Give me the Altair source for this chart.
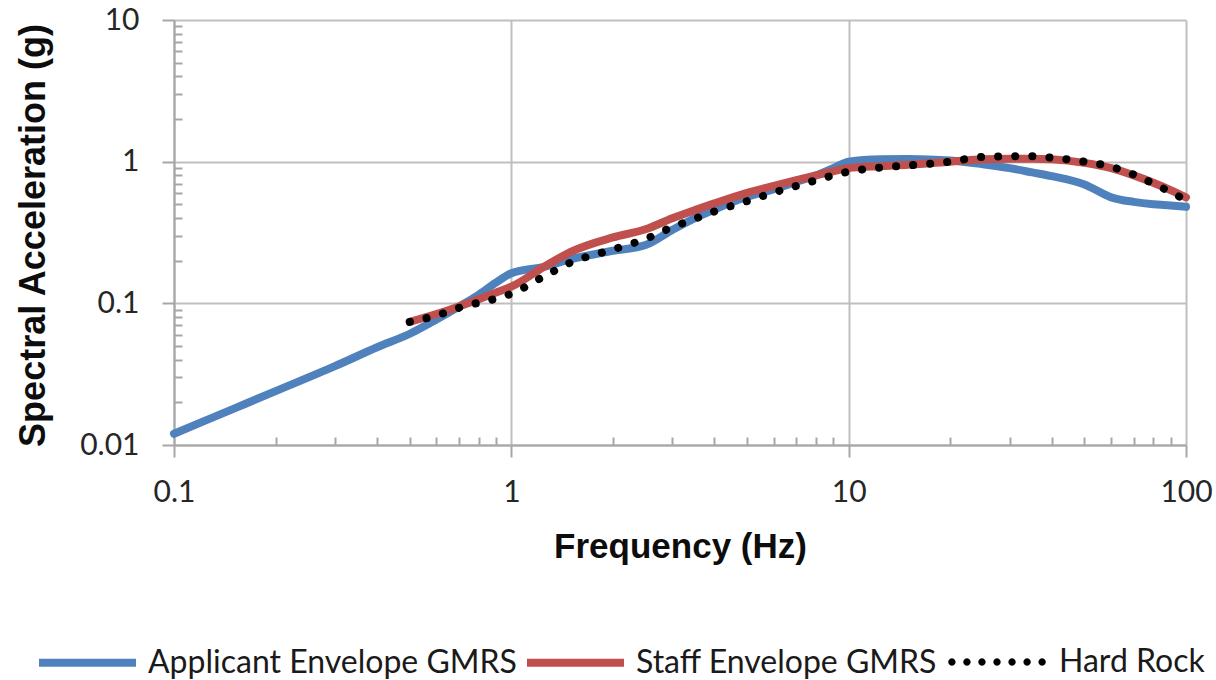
import math
import altair as alt
import pandas as pd

series_names = ["Applicant Envelope GMRS", "Staff Envelope GMRS", "Hard Rock"]

freq_applicant = [0.1, 0.15, 0.2, 0.3, 0.4, 0.5, 0.6, 0.7, 0.8, 0.9, 1, 1.25, 1.5, 2, 2.5, 3, 3.5, 4, 5,
                  6, 7, 8, 9, 10, 12.5, 15, 20, 25, 30, 35, 40, 50, 60, 70, 80, 90, 100]
sa_applicant = [0.012, 0.018, 0.024, 0.036, 0.049, 0.061, 0.077, 0.095, 0.115, 0.14, 0.163, 0.181, 0.205,
                0.235, 0.258, 0.33, 0.4, 0.46, 0.565, 0.64, 0.72, 0.8, 0.9, 1.0, 1.04, 1.045, 1.02, 0.96,
                0.9, 0.84, 0.79, 0.69, 0.56, 0.52, 0.5, 0.49, 0.48]

freq_staff = [0.5, 0.6, 0.7, 0.8, 0.9, 1, 1.25, 1.5, 2, 2.5, 3, 3.5, 4, 5, 6, 7, 8, 9, 10, 12.5, 15,
              20, 25, 30, 35, 40, 50, 60, 70, 80, 90, 100]
sa_staff = [0.074, 0.084, 0.095, 0.107, 0.119, 0.131, 0.181, 0.231, 0.292, 0.333, 0.398, 0.455, 0.508,
            0.603, 0.675, 0.74, 0.8, 0.855, 0.9, 0.93, 0.95, 1.0, 1.04, 1.05, 1.05, 1.04, 0.98, 0.9,
            0.8, 0.71, 0.63, 0.56]

freq_rock = [0.5, 0.6, 0.7, 0.8, 0.9, 1, 1.25, 1.5, 2, 2.5, 3, 3.5, 4, 5, 6, 7, 8, 9, 10, 12.5, 15,
             20, 25, 30, 35, 40, 50, 60, 70, 80, 90, 100]
sa_rock = [0.074, 0.082, 0.093, 0.101, 0.108, 0.117, 0.155, 0.194, 0.24, 0.285, 0.345, 0.395, 0.445,
           0.527, 0.605, 0.675, 0.74, 0.8, 0.85, 0.91, 0.94, 1.0, 1.08, 1.09, 1.09, 1.065, 1.0, 0.92,
           0.81, 0.7, 0.61, 0.535]

x_major = [0.1, 1, 10, 100]
y_major = [0.01, 0.1, 1, 10]
x_minor = [0.2, 0.3, 0.4, 0.5, 0.6, 0.7, 0.8, 0.9, 2, 3, 4, 5, 6, 7, 8, 9,
           20, 30, 40, 50, 60, 70, 80, 90]
y_minor = [0.02, 0.03, 0.04, 0.05, 0.06, 0.07, 0.08, 0.09, 0.2, 0.3, 0.4, 0.5, 0.6, 0.7, 0.8, 0.9,
           2, 3, 4, 5, 6, 7, 8, 9]

rows = []
for name, fs, vs in zip(series_names[:2], [freq_applicant, freq_staff], [sa_applicant, sa_staff]):
    for f, v in zip(fs, vs):
        rows.append({"freq": f, "sa": v, "series": name})
df_solid = pd.DataFrame(rows)
df_rock = pd.DataFrame({"freq": freq_rock, "sa": sa_rock, "rock": series_names[2]})

GRID = "#BFBFBF"
AX = "#A6A6A6"
LABEL_FONT = "Lato"
TITLE_FONT = "Liberation Sans"

xscale = alt.Scale(type="log", domain=[0.1, 100], nice=False)
yscale = alt.Scale(type="log", domain=[0.01, 10], nice=False)


# legend symbol: seven small filled polygons (dots), in unit symbol coordinates
def _dot(cx, r=0.045, n=12):
    pts = ["{:.4f},{:.4f}".format(cx + r * math.cos(2 * math.pi * i / n), r * math.sin(2 * math.pi * i / n))
           for i in range(n)]
    return "M" + " L".join(pts) + " Z"


dot_path = " ".join(_dot(-0.93 + k * 0.31) for k in range(7))

common_legend = dict(
    orient="none", legendY=590, direction="horizontal", title=None,
    symbolSize=9409, labelFont=LABEL_FONT, labelFontSize=32, labelColor="#1a1a1a",
    labelLimit=600, padding=0,
)

x_axis = alt.Axis(
    orient="bottom", values=x_major, format="~g", grid=True, gridColor=GRID, gridWidth=2,
    domainColor=AX, domainWidth=2, tickColor=AX, tickWidth=2, tickSize=12,
    labelFont=LABEL_FONT, labelFontSize=30, labelColor="#262626", labelPadding=20,
    labelFlush=False, labelOverlap=False,
    title="Frequency (Hz)", titleFont=TITLE_FONT, titleFontSize=35, titleFontWeight="bold",
    titleColor="#0d0d0d", titleY=112, titleBaseline="alphabetic")
y_axis = alt.Axis(
    orient="left", values=y_major, format="~g", grid=True, gridColor=GRID, gridWidth=2,
    domainColor=AX, domainWidth=2, tickColor=AX, tickWidth=2, tickSize=12,
    labelFont=LABEL_FONT, labelFontSize=30, labelColor="#262626", labelPadding=23,
    labelFlush=False, labelOverlap=False,
    title="Spectral Acceleration (g)", titleFont=TITLE_FONT, titleFontSize=36,
    titleFontWeight="bold", titleColor="#0d0d0d", titleX=-130, titleY=215,
    titleAngle=270, titleAlign="center", titleBaseline="alphabetic")

solid = alt.Chart(df_solid).mark_line(strokeWidth=8, strokeCap="round", interpolate="monotone").encode(
    x=alt.X("freq:Q", scale=xscale, axis=x_axis),
    y=alt.Y("sa:Q", scale=yscale, axis=y_axis),
    color=alt.Color("series:N", scale=alt.Scale(domain=series_names[:2],
                                                range=["#4F81BD", "#C0504D"]),
                    legend=alt.Legend(legendX=-139, symbolType="stroke", symbolStrokeWidth=8,
                                      columnPadding=-6, labelOffset=8, **common_legend)),
)

rock = alt.Chart(df_rock).mark_line(strokeWidth=8, strokeDash=[0.1, 17], strokeCap="round",
                                    color="#000000", interpolate="monotone").encode(
    x=alt.X("freq:Q", scale=xscale, axis=None),
    y=alt.Y("sa:Q", scale=yscale, axis=None),
)

# legend entry for the dotted series (the layer itself draws nothing)
rock_key = alt.Chart(df_rock).transform_filter("datum.sa < 0").mark_line(strokeWidth=3).encode(
    x=alt.X("freq:Q", scale=xscale, axis=None),
    y=alt.Y("sa:Q", scale=yscale, axis=None),
    stroke=alt.Stroke("rock:N", scale=alt.Scale(domain=series_names[2:], range=["#000000"]),
                      legend=alt.Legend(legendX=773, legendY=592, symbolType=dot_path,
                                        symbolStrokeWidth=3, labelOffset=12,
                                        symbolStrokeColor="#000000", symbolFillColor="#000000",
                                        symbolOpacity=1,
                                        **{k: v for k, v in common_legend.items() if k != "legendY"})),
)

minor = alt.Chart(df_solid).mark_point(opacity=0).encode(
    x=alt.X("freq:Q", scale=xscale, axis=alt.Axis(
        orient="bottom", values=x_minor, offset=-8, tickSize=8, tickColor=AX, tickWidth=2,
        domain=False, labels=False, grid=False, title="")),
    y=alt.Y("sa:Q", scale=yscale, axis=alt.Axis(
        orient="left", values=y_minor, offset=-8, tickSize=8, tickColor=AX, tickWidth=2,
        domain=False, labels=False, grid=False, title="")),
)

chart = alt.layer(solid, rock, rock_key, minor).resolve_axis(x="independent", y="independent").properties(
    width=1012, height=425,
    autosize=alt.AutoSizeParams(type="none"),
    padding={"left": 174, "top": 20, "right": 30, "bottom": 235},
    background="white",
).configure_view(strokeOpacity=0)

chart.save("out.html", embed_options={"renderer": "svg", "actions": False})
